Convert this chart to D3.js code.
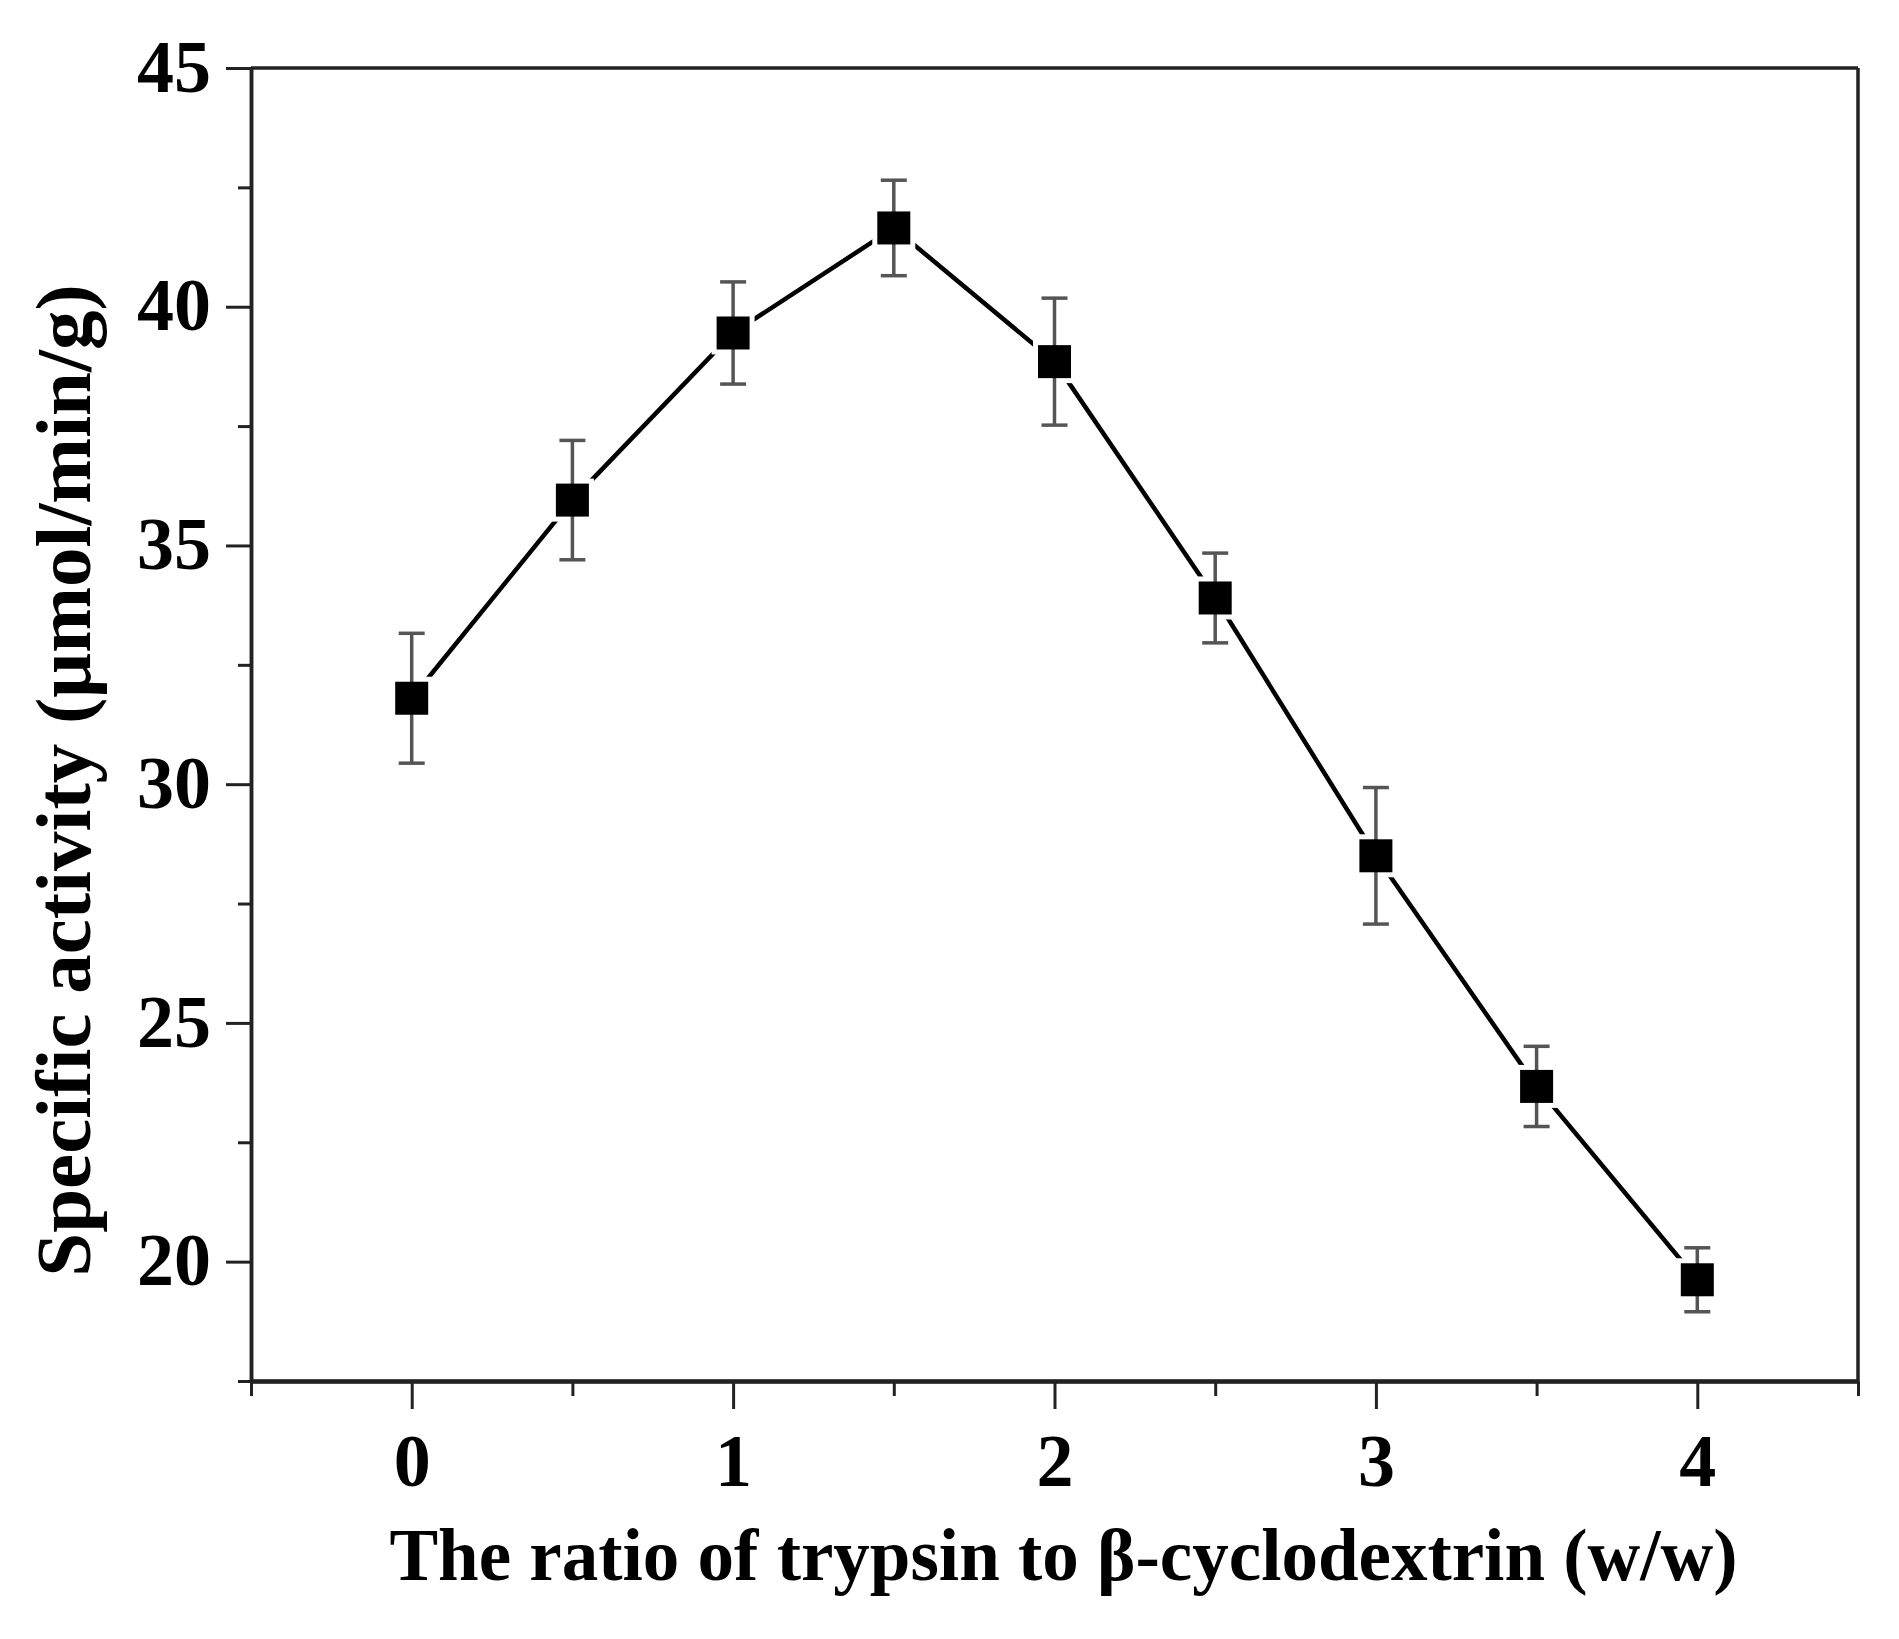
<!DOCTYPE html>
<html>
  <head>
    <title>Specific activity vs ratio</title>
    <script src="https://d3js.org/d3.v7.min.js"></script>
    <style>
      body { margin: 0; background: #fff; }
    </style>
  </head>
  <body>
    <svg width="1899" height="1639" id="mainsvg"></svg>
    <script>
        // data
        const ratios = [0, 0.5, 1, 1.5, 2, 2.5, 3, 3.5, 4];
        const activity = [31.8, 35.95, 39.45, 41.65, 38.85, 33.9, 28.5, 23.67, 19.62];
        const errors = [1.36, 1.25, 1.07, 1.0, 1.33, 0.94, 1.43, 0.84, 0.67];

        const xMajorTicks = [0, 1, 2, 3, 4];
        const xMinorTicks = [-0.5, 0.5, 1.5, 2.5, 3.5, 4.5];
        const yMajorTicks = [20, 25, 30, 35, 40, 45];
        const yMinorTicks = [17.5, 22.5, 27.5, 32.5, 37.5, 42.5];

        const data = ratios.map((r, i) => ({x: r, y: activity[i], err: errors[i]}));

        const svg = d3.select('#mainsvg');
        const width = +svg.attr('width');
        const height = +svg.attr('height');
        const margin = {top: 68, right: 41, bottom: 258, left: 251};
        const innerWidth = width - margin.left - margin.right;
        const innerHeight = height - margin.top - margin.bottom;
        const font = "'Liberation Serif', 'Times New Roman', serif";
        const axisColor = '#222';

        const xScale = d3.scaleLinear().domain([-0.5, 4.5]).range([0, innerWidth]);
        const yScale = d3.scaleLinear().domain([17.5, 45]).range([innerHeight, 0]);

        const g = svg.append('g').attr('id', 'maingroup')
          .attr('transform', `translate(${margin.left}, ${margin.top})`);

        // frame (top + right)
        g.append('line').attr('x1', 0).attr('x2', innerWidth).attr('y1', 0).attr('y2', 0)
          .attr('stroke', axisColor).attr('stroke-width', 3.5);
        g.append('line').attr('x1', innerWidth).attr('x2', innerWidth).attr('y1', 0).attr('y2', innerHeight)
          .attr('stroke', axisColor).attr('stroke-width', 3.5);

        // x axis
        const xAxisMinor = g.append('g').attr('transform', `translate(0, ${innerHeight})`)
          .call(d3.axisBottom(xScale).tickValues(xMinorTicks).tickSize(15).tickSizeOuter(0));
        const xAxis = g.append('g').attr('transform', `translate(0, ${innerHeight})`)
          .call(d3.axisBottom(xScale).tickValues(xMajorTicks).tickSize(28).tickSizeOuter(0)
            .tickPadding(24).tickFormat(d3.format('d')));

        // y axis
        const yAxisMinor = g.append('g')
          .call(d3.axisLeft(yScale).tickValues(yMinorTicks).tickSize(13).tickSizeOuter(0));
        const yAxis = g.append('g')
          .call(d3.axisLeft(yScale).tickValues(yMajorTicks).tickSize(25).tickSizeOuter(0));

        // minor ticks carry no labels; y labels are placed in page coordinates below
        xAxisMinor.selectAll('.tick text').remove();
        yAxisMinor.selectAll('.tick text').remove();
        yAxis.selectAll('.tick text').remove();

        [xAxisMinor, xAxis, yAxisMinor, yAxis].forEach(a => {
          a.selectAll('path.domain').attr('stroke', axisColor).attr('stroke-width', 3.5);
          a.selectAll('.tick line').attr('stroke', axisColor).attr('stroke-width', 3);
        });
        xAxis.select('path.domain').attr('stroke-width', 4.5);
        xAxis.selectAll('.tick text')
          .attr('font-family', font).attr('font-weight', 'bold')
          .attr('font-size', 74).attr('fill', '#000');

        svg.append('g').selectAll('text').data(yMajorTicks).join('text')
          .attr('x', margin.left - 40)
          .attr('y', d => margin.top + yScale(d))
          .attr('dy', '0.32em')
          .attr('text-anchor', 'end')
          .attr('font-family', font).attr('font-weight', 'bold')
          .attr('font-size', 74).attr('fill', '#000')
          .text(d3.format('d'));

        // axis titles
        svg.append('text')
          .attr('x', margin.left + innerWidth / 2 + 9).attr('y', 1580)
          .attr('text-anchor', 'middle')
          .attr('font-family', font).attr('font-weight', 'bold').attr('font-size', 73)
          .text('The ratio of trypsin to β-cyclodextrin (w/w)');

        svg.append('text')
          .attr('transform', `translate(90, ${margin.top + innerHeight / 2 + 56}) rotate(-90)`)
          .attr('text-anchor', 'middle')
          .attr('font-family', font).attr('font-weight', 'bold').attr('font-size', 79)
          .text('Specific activity (μmol/min/g)');

        // connecting line
        const line = d3.line().x(d => xScale(d.x)).y(d => yScale(d.y));
        g.append('path').datum(data)
          .attr('d', line).attr('fill', 'none')
          .attr('stroke', '#000').attr('stroke-width', 4.5);

        const size = 33;
        // white halo to break the line around each marker
        g.selectAll('.halo').data(data).join('rect').attr('class', 'halo')
          .attr('x', d => xScale(d.x) - size / 2 - 5).attr('y', d => yScale(d.y) - size / 2 - 5)
          .attr('width', size + 10).attr('height', size + 10).attr('fill', '#fff');

        // error bars
        const eb = g.selectAll('.errbar').data(data).join('g').attr('class', 'errbar')
          .attr('stroke', '#555').attr('stroke-width', 3.5);
        eb.append('line')
          .attr('x1', d => xScale(d.x)).attr('x2', d => xScale(d.x))
          .attr('y1', d => yScale(d.y - d.err)).attr('y2', d => yScale(d.y + d.err));
        eb.append('line')
          .attr('x1', d => xScale(d.x) - 13).attr('x2', d => xScale(d.x) + 13)
          .attr('y1', d => yScale(d.y + d.err)).attr('y2', d => yScale(d.y + d.err));
        eb.append('line')
          .attr('x1', d => xScale(d.x) - 13).attr('x2', d => xScale(d.x) + 13)
          .attr('y1', d => yScale(d.y - d.err)).attr('y2', d => yScale(d.y - d.err));

        // square markers
        g.selectAll('.marker').data(data).join('rect').attr('class', 'marker')
          .attr('x', d => xScale(d.x) - size / 2).attr('y', d => yScale(d.y) - size / 2)
          .attr('width', size).attr('height', size).attr('fill', '#000');
    </script>
  </body>
</html>
